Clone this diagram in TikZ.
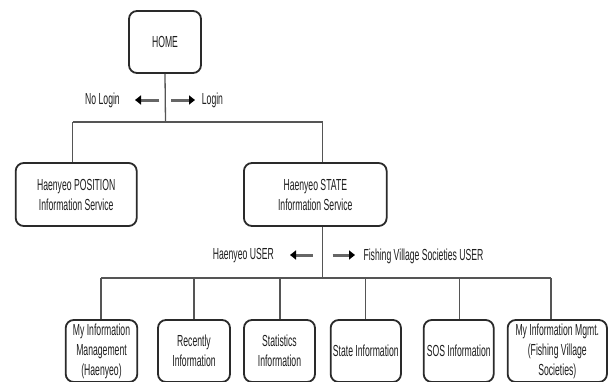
\documentclass[tikz,border=0pt]{standalone}
\usepackage{fontspec}
\setmainfont{Liberation Sans}[FakeStretch=0.54]
\usetikzlibrary{arrows.meta}
\definecolor{boxline}{HTML}{2A2A2A}
\definecolor{connline}{HTML}{555555}
\definecolor{shaft}{HTML}{666666}
\definecolor{txt}{HTML}{1E1E1E}
\begin{document}
\begin{tikzpicture}[x=1pt,y=-1pt,
  box/.style={draw=boxline,line width=1.8pt,rounded corners=8pt,fill=white,
    align=center,inner sep=0pt,text=txt,font=\fontsize{16}{20}\selectfont},
  conn/.style={draw=connline,line width=1.3pt},
  lbl/.style={text=txt,font=\fontsize{16}{20}\selectfont,inner sep=0pt},
  dirarrow/.style={draw=shaft,line width=3pt,-{Triangle[length=6pt,width=9pt,color=black]}}]
\useasboundingbox (0,0) rectangle (611,381);
% boxes
\node[box,minimum width=72pt,minimum height=62pt] (home) at (165,42) {HOME};
\node[box,minimum width=121pt,minimum height=63pt] (pos) at (76.2,194.5) {Haenyeo POSITION\\Information Service};
\node[box,minimum width=142.7pt,minimum height=63pt] (state) at (315.3,194.5) {Haenyeo STATE\\Information Service};
\node[box,minimum width=71.6pt,minimum height=62pt] (l1) at (101.5,351) {My Information\\Management\\(Haenyeo)};
\node[box,minimum width=72pt,minimum height=62pt] (l2) at (194,351) {Recently\\Information};
\node[box,minimum width=71pt,minimum height=62pt] (l3) at (279.5,351) {Statistics\\Information};
\node[box,minimum width=70.3pt,minimum height=62pt] (l4) at (365.8,351) {State Information};
\node[box,minimum width=70pt,minimum height=62pt] (l5) at (458.7,351) {SOS Information};
\node[box,minimum width=99.3pt,minimum height=62pt] (l6) at (557.3,351) {My Information Mgmt.\\(Fishing Village\\Societies)};
% top connectors
\coordinate (j1) at (165.5,122);
\coordinate (p1) at (72.7,122);
\coordinate (s1) at (322.7,122);
\draw[conn] (home.south) -- (j1);
\draw[conn] (p1) -- (s1);
\draw[conn] (p1) -- (pos.north -| p1);
\draw[conn] (s1) -- (state.north -| s1);
% bottom connectors
\coordinate (j2) at (322.7,278);
\draw[conn] (state.south -| j2) -- (j2);
\foreach \i/\x in {1/101,2/194,3/280,4/365.7,5/459.3,6/551}{\coordinate (t\i) at (\x,278);}
\draw[conn] (t1) -- (t6);
\foreach \i in {1,...,6}{\draw[conn] (t\i) -- (l\i.north -| t\i);}
% labels and arrows
\node[lbl,anchor=east] (nologin) at (120,100) {No Login};
\node[lbl,anchor=west] (login) at (201.7,100) {Login};
\coordinate (a1s) at (159.3,100); \coordinate (a1e) at (135,100);
\coordinate (a2s) at (171,100); \coordinate (a2e) at (195,100);
\draw[dirarrow] (a1s) -- (a1e);
\draw[dirarrow] (a2s) -- (a2e);
\node[lbl,anchor=east] (huser) at (274,256) {Haenyeo USER};
\node[lbl,anchor=west] (fuser) at (363.3,256) {Fishing Village Societies USER};
\coordinate (b1s) at (312.7,255); \coordinate (b1e) at (290,255);
\coordinate (b2s) at (332.7,255); \coordinate (b2e) at (355,255);
\draw[dirarrow] (b1s) -- (b1e);
\draw[dirarrow] (b2s) -- (b2e);
\end{tikzpicture}
\end{document}
